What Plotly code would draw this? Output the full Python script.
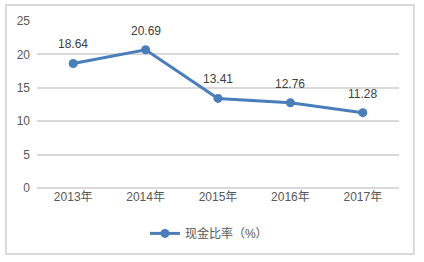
import plotly.graph_objects as go

categories = ["2013年", "2014年", "2015年", "2016年", "2017年"]
values = [18.64, 20.69, 13.41, 12.76, 11.28]
labels = ["18.64", "20.69", "13.41", "12.76", "11.28"]
series_name = "现金比率（%）"
y_ticks = [0, 5, 10, 15, 20, 25]

blue = "#4a7ebb"
text_color = "#595959"
font_family = "Liberation Sans, Noto Sans CJK SC, sans-serif"

fig = go.Figure()
fig.add_trace(go.Scatter(
    x=categories, y=values, mode="lines+markers",
    name=series_name,
    line=dict(color=blue, width=3),
    marker=dict(color=blue, size=9),
))

annotations = [dict(x=c, y=v, text=t, showarrow=False, yshift=19,
                    font=dict(size=12, color="#404040", family=font_family))
               for c, v, t in zip(categories, values, labels)]

fig.update_layout(
    width=424, height=262,
    margin=dict(l=37, r=25, t=21, b=74),
    paper_bgcolor="white", plot_bgcolor="white",
    font=dict(family=font_family, size=12, color=text_color),
    showlegend=True,
    legend=dict(orientation="h", x=0.475, xanchor="center", y=-0.185, yanchor="top",
                font=dict(size=12, color=text_color)),
    xaxis=dict(range=[-0.5, 4.5], showgrid=False, showline=False, ticks="",
               tickfont=dict(size=12)),
    yaxis=dict(range=[0, 25], tickvals=y_ticks, showgrid=True, gridcolor="#d9d9d9",
               gridwidth=2, zeroline=True, zerolinecolor="#d9d9d9", zerolinewidth=2,
               showline=False, ticks="", tickfont=dict(size=12), ticklabelstandoff=6),
    annotations=annotations,
    shapes=[dict(type="rect", xref="paper", yref="paper",
                 x0=-0.086, x1=1.041, y0=-0.395, y1=1.096,
                 line=dict(color="#d9d9d9", width=2))],
)

fig.write_html("out.html")
